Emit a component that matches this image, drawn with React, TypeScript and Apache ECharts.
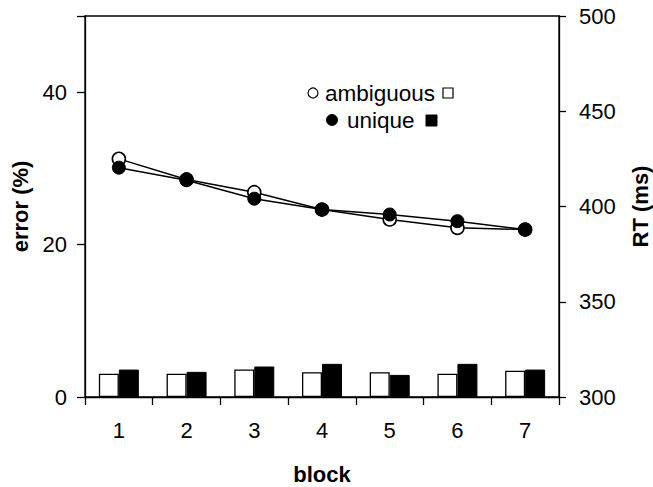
import React, { useEffect, useRef } from "react";
import * as echarts from "echarts";

const blocks = ["1", "2", "3", "4", "5", "6", "7"];
const errorAmbiguous = [3.05, 3.05, 3.6, 3.25, 3.25, 3.05, 3.45];
const errorUnique = [3.6, 3.3, 4.0, 4.35, 2.9, 4.35, 3.6];
const rtAmbiguous = [425, 414.2, 407.5, 398.4, 393.2, 388.8, 387.9];
const rtUnique = [420.4, 413.8, 404.1, 398.4, 395.8, 392.3, 387.9];

const FONT = "'Liberation Sans', Arial, sans-serif";

export default function App() {
  const ref = useRef<HTMLDivElement>(null);
  useEffect(() => {
    if (!ref.current) return;
    const chart = echarts.init(ref.current, undefined, { renderer: "svg" });
    const axisLine = { show: true, lineStyle: { color: "#000", width: 1.3 } };
    chart.setOption({
      animation: false,
      backgroundColor: "#fff",
      textStyle: { fontFamily: FONT },
      grid: {
        left: 85,
        right: 94,
        top: 16,
        bottom: 90,
        show: true,
        borderColor: "#000",
        borderWidth: 1.3,
        containLabel: false,
        outerBoundsMode: "none",
      },
      xAxis: {
        type: "category",
        data: blocks,
        boundaryGap: true,
        name: "block",
        nameLocation: "middle",
        nameGap: 66,
        nameTextStyle: { fontSize: 22, fontWeight: "bold", color: "#000", fontFamily: FONT },
        axisLine,
        axisTick: { show: true, length: 8, inside: false, lineStyle: { color: "#000", width: 1.3 } },
        axisLabel: { fontSize: 22, color: "#000", margin: 22, fontFamily: FONT },
        splitLine: { show: false },
      },
      yAxis: [
        {
          type: "value",
          min: 0,
          max: 50,
          interval: 20,
          position: "left",
          name: "error (%)",
          nameLocation: "middle",
          nameGap: 50,
          nameRotate: 90,
          nameTextStyle: { fontSize: 22, fontWeight: "bold", color: "#000", fontFamily: FONT },
          axisLine,
          axisTick: { show: true, length: 8, lineStyle: { color: "#000", width: 1.3 } },
          axisLabel: {
            fontSize: 22,
            color: "#000",
            margin: 18,
            fontFamily: FONT,
            formatter: (v: number) => (v === 50 ? "" : String(v)),
          },
          splitLine: { show: false },
        },
        {
          type: "value",
          min: 300,
          max: 500,
          interval: 50,
          position: "right",
          name: "RT (ms)",
          nameLocation: "middle",
          nameGap: 70,
          nameRotate: 90,
          nameTextStyle: { fontSize: 22, fontWeight: "bold", color: "#000", fontFamily: FONT },
          axisLine,
          axisTick: { show: true, length: 7, lineStyle: { color: "#000", width: 1.3 } },
          axisLabel: { fontSize: 22, color: "#000", margin: 20, fontFamily: FONT },
          splitLine: { show: false },
        },
      ],
      series: [
        {
          name: "ambiguous error",
          type: "bar",
          yAxisIndex: 0,
          data: errorAmbiguous,
          barWidth: 20,
          barGap: "0%",
          itemStyle: { color: "#fff", borderColor: "#000", borderWidth: 1.3 },
        },
        {
          name: "unique error",
          type: "bar",
          yAxisIndex: 0,
          data: errorUnique,
          barWidth: 20,
          barGap: "0%",
          itemStyle: { color: "#000", borderColor: "#000", borderWidth: 1 },
        },
        {
          name: "ambiguous RT",
          type: "line",
          yAxisIndex: 1,
          data: rtAmbiguous,
          symbol: "circle",
          symbolSize: 13,
          lineStyle: { color: "#000", width: 1.5 },
          itemStyle: { color: "#fff", borderColor: "#000", borderWidth: 1.6 },
          z: 3,
        },
        {
          name: "unique RT",
          type: "line",
          yAxisIndex: 1,
          data: rtUnique,
          symbol: "circle",
          symbolSize: 13,
          lineStyle: { color: "#000", width: 1.5 },
          itemStyle: { color: "#000", borderColor: "#000", borderWidth: 1 },
          z: 4,
        },
      ],
      graphic: [
        { type: "circle", shape: { cx: 313, cy: 93, r: 5 }, style: { fill: "#fff", stroke: "#000", lineWidth: 1.2 } },
        {
          type: "text",
          x: 325,
          y: 93,
          style: { text: "ambiguous", font: `22.5px ${FONT}`, fill: "#000", verticalAlign: "middle", align: "left" },
        },
        { type: "rect", shape: { x: 443, y: 88, width: 10, height: 10 }, style: { fill: "#fff", stroke: "#000", lineWidth: 1.2 } },
        { type: "circle", shape: { cx: 332, cy: 120, r: 5.5 }, style: { fill: "#000", stroke: "#000", lineWidth: 1 } },
        {
          type: "text",
          x: 347,
          y: 120,
          style: { text: "unique", font: `22.5px ${FONT}`, fill: "#000", verticalAlign: "middle", align: "left" },
        },
        { type: "rect", shape: { x: 426, y: 115, width: 11, height: 11 }, style: { fill: "#000", stroke: "#000", lineWidth: 1 } },
      ],
    });
    return () => chart.dispose();
  }, []);
  return <div ref={ref} style={{ width: 653, height: 487, position: "absolute", left: 0, top: 0 }} />;
}
